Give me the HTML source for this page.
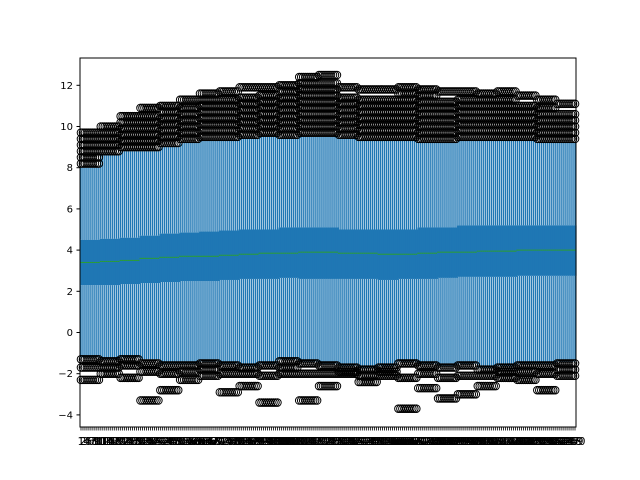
<!DOCTYPE html>
<html><head><meta charset="utf-8"><style>body{margin:0;background:#fff}svg{display:block}</style></head>
<body>
<svg id="chart" width="640" height="480" xmlns="http://www.w3.org/2000/svg" font-family="DejaVu Sans, Liberation Sans, sans-serif">
<rect width="640" height="480" fill="#fff"/>
<g id="plot"></g>
<rect x="80" y="58" width="496" height="369" fill="none" stroke="#000" stroke-width="1"/>
<g id="yaxis"></g><g id="xaxis"></g>
</svg>
<script>
const medians=[3.4,3.45,3.5,3.6,3.65,3.7,3.7,3.75,3.8,3.85,3.85,3.9,3.9,3.85,3.85,3.8,3.8,3.85,3.9,3.9,3.95,3.95,4.0,4.0,4.0];
const q1s=[2.3,2.3,2.35,2.4,2.45,2.5,2.5,2.55,2.6,2.6,2.65,2.6,2.6,2.6,2.6,2.55,2.6,2.6,2.65,2.7,2.7,2.7,2.75,2.75,2.75];
const q3s=[4.5,4.55,4.6,4.7,4.8,4.85,4.9,4.95,5.0,5.0,5.1,5.1,5.1,5.0,5.0,5.0,5.0,5.1,5.1,5.2,5.2,5.2,5.2,5.2,5.2];
const whiskHi=[8.0,8.6,8.8,8.8,9.0,9.2,9.3,9.3,9.4,9.5,9.4,9.5,9.5,9.4,9.3,9.3,9.3,9.2,9.2,9.3,9.3,9.3,9.3,9.2,9.2];
const whiskLo=[-1.2,-1.3,-1.2,-1.3,-1.5,-1.5,-1.4,-1.5,-1.6,-1.5,-1.3,-1.4,-1.5,-1.6,-1.7,-1.6,-1.4,-1.5,-1.6,-1.5,-1.7,-1.6,-1.5,-1.5,-1.4];
const outHi=[[8.2,8.5,8.8,9.1,9.4,9.7],[8.8,9.1,9.4,9.7,10.0],[9.0,9.3,9.6,9.9,10.2,10.5],[9.0,9.3,9.6,9.9,10.2,10.5,10.9],[9.2,9.5,9.8,10.1,10.4,10.7,11.0],[9.4,9.7,10.0,10.3,10.6,10.9,11.3],[9.5,9.8,10.1,10.4,10.7,11.0,11.3,11.6],[9.5,9.8,10.1,10.4,10.7,11.0,11.3,11.7],[9.6,9.9,10.2,10.5,10.8,11.1,11.4,11.9],[9.7,10.0,10.3,10.6,10.9,11.2,11.5,11.9],[9.6,9.9,10.2,10.5,10.8,11.1,11.4,11.7,12.0],[9.7,10.0,10.3,10.6,10.9,11.2,11.5,11.8,12.1,12.4],[9.7,10.0,10.3,10.6,10.9,11.2,11.5,11.8,12.1,12.5],[9.6,9.9,10.2,10.5,10.8,11.1,11.4,11.9],[9.5,9.8,10.1,10.4,10.7,11.0,11.3,11.8],[9.5,9.8,10.1,10.4,10.7,11.0,11.3,11.8],[9.5,9.8,10.1,10.4,10.7,11.0,11.3,11.6,11.9],[9.4,9.7,10.0,10.3,10.6,10.9,11.2,11.5,11.8],[9.4,9.7,10.0,10.3,10.6,10.9,11.2,11.7],[9.5,9.8,10.1,10.4,10.7,11.0,11.3,11.7],[9.5,9.8,10.1,10.4,10.7,11.0,11.3,11.6],[9.5,9.8,10.1,10.4,10.7,11.0,11.3,11.7],[9.5,9.8,10.1,10.4,10.7,11.0,11.5],[9.4,9.7,10.0,10.3,10.6,10.9,11.3],[9.4,9.7,10.0,10.3,10.6,11.1]];
const outLo=[[-1.3,-1.7,-2.3],[-1.4,-1.7,-2.0],[-1.3,-1.6,-2.2],[-1.5,-1.9,-3.3],[-1.6,-2.0,-2.8],[-1.6,-1.9,-2.3],[-1.5,-1.8,-2.1],[-1.6,-2.0,-2.9],[-1.7,-2.0,-2.6],[-1.6,-2.1,-3.4],[-1.4,-1.7,-2.0],[-1.5,-2.0,-3.3],[-1.6,-2.0,-2.6],[-1.7,-1.9,-2.0],[-1.8,-2.1,-2.4],[-1.7,-1.9,-2.1],[-1.5,-2.2,-3.7],[-1.6,-2.0,-2.7],[-1.7,-2.2,-3.2],[-1.6,-2.1,-3.0],[-1.8,-2.1,-2.6],[-1.7,-1.9,-2.2],[-1.6,-1.9,-2.3],[-1.6,-2.0,-2.8],[-1.5,-1.8,-2.1]];
const yTicks=[-4,-2,0,2,4,6,8,10,12];
const perGroup=10;
const N=medians.length*perGroup;
const NS='http://www.w3.org/2000/svg';
function y(v){return 332.5-v*20.6;}
function x(i){return 80+(i+0.5)*496/N;}
function mk(t,a,p){const e=document.createElementNS(NS,t);for(const k in a)e.setAttribute(k,a[k]);p.appendChild(e);return e;}
const plot=document.getElementById('plot');
const bw=496/N*0.5;
for(let i=0;i<N;i++){
  const g=Math.floor(i/perGroup), cx=x(i);
  const box=mk('g',{},plot);
  
  
  mk('line',{x1:cx,x2:cx,y1:y(q3s[g]),y2:y(whiskHi[g]),stroke:'#1f77b4','stroke-width':1.4},box);
  mk('line',{x1:cx,x2:cx,y1:y(q1s[g]),y2:y(whiskLo[g]),stroke:'#1f77b4','stroke-width':1.4},box);
  mk('rect',{x:cx-bw,y:y(q3s[g]),width:bw*2+0.6,height:y(q1s[g])-y(q3s[g]),fill:'#1f77b4'},box);
  mk('line',{x1:cx-bw,x2:cx+bw,y1:y(medians[g]),y2:y(medians[g]),stroke:'#2ca02c','stroke-width':1},box);
}
const og=mk('g',{},plot);


for(let i=0;i<N;i++){
  const g=Math.floor(i/perGroup), cx=x(i);
  outHi[g].concat(outLo[g]).forEach(v=>{
    mk('circle',{cx:cx,cy:y(v),r:3.8,fill:'none',stroke:'#000','stroke-width':1},og);
  });
}
const ya=document.getElementById('yaxis');
yTicks.forEach(t=>{
  mk('line',{x1:76.5,x2:80,y1:y(t),y2:y(t),stroke:'#000'},ya);
  const tx=mk('text',{x:73,y:y(t)+3.5,'text-anchor':'end','font-size':10},ya);
  
  
  tx.textContent=t<0?'\u2212'+(-t):String(t);
});
const xa=document.getElementById('xaxis');
for(let i=0;i<N;i++){
  mk('line',{x1:x(i),x2:x(i),y1:427,y2:430.5,stroke:'#000','stroke-width':0.8},xa);
  const tx=mk('text',{x:x(i),y:445,'text-anchor':'middle','font-size':11},xa);
  
  
  tx.textContent=String(i+1);
}
</script>
</body></html>
